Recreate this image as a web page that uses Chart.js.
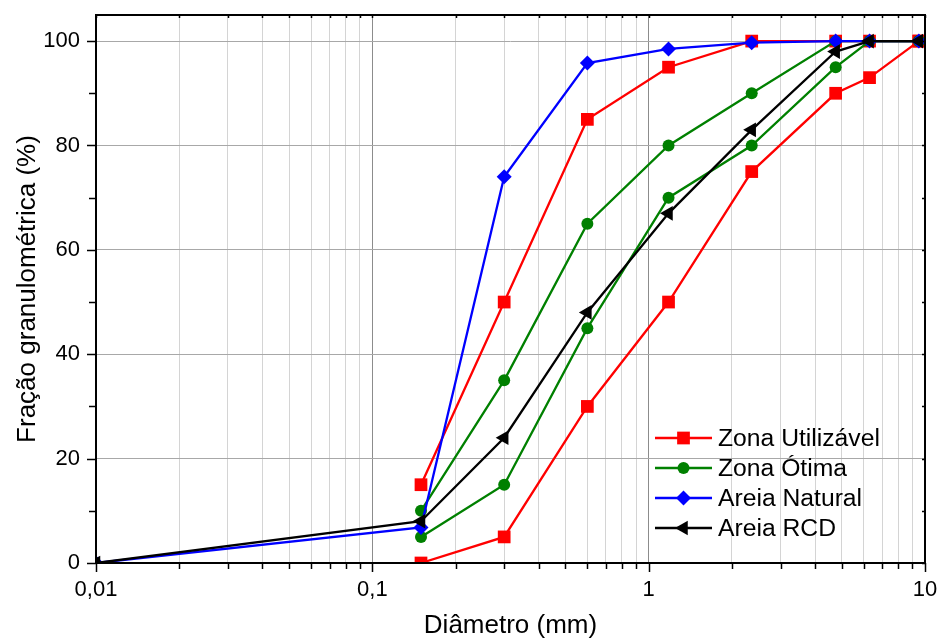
<!DOCTYPE html>
<html>
<head>
<meta charset="utf-8">
<title>Curvas granulométricas</title>
<script src="https://cdn.jsdelivr.net/npm/chart.js@4.4.0/dist/chart.umd.min.js"></script>
<style>
  html, body { margin: 0; padding: 0; background: #fff; }
  #wrap { width: 939px; height: 639px; position: relative; }
</style>
</head>
<body>
<div id="wrap"><canvas id="granulometria"></canvas></div>
<script>
// aberturas das peneiras (mm) e limites da NBR
var peneiras = [0.15, 0.3, 0.6, 1.18, 2.36, 4.75, 6.3, 9.5];
var utilizavelInf = [0, 5, 30, 50, 75, 90, 93, 100];
var utilizavelSup = [15, 50, 85, 95, 100, 100, 100, 100];
var otimaInf = [5, 15, 45, 70, 80, 95, 100, 100];
var otimaSup = [10, 35, 65, 80, 90, 100, 100, 100];

// areias ensaiadas (inclui o fundo em 0,01 mm)
var peneirasAreia = [0.01, 0.15, 0.3, 0.6, 1.18, 2.36, 4.75, 6.3, 9.5];
var areiaNatural = [0, 6.8, 74, 95.8, 98.5, 99.7, 100, 100, 100];
var areiaRCD = [0, 8, 24, 48, 67, 83, 98, 100, 100];

var xDecadas = [0.01, 0.1, 1, 10];
var yRotulos = [0, 20, 40, 60, 80, 100];

var FONTE = '"Liberation Sans", Arial, sans-serif';
Chart.defaults.font.family = FONTE;
Chart.defaults.color = '#000';

function pontos(xs, ys) {
  return xs.map(function (x, i) { return { x: x, y: ys[i] }; });
}

var estilos = {
  util: { cor: '#ff0000', ponto: 'rect', raio: 9, rot: 0 },
  otima: { cor: '#008000', ponto: 'circle', raio: 6, rot: 0 },
  natural: { cor: '#0000ff', ponto: 'rectRot', raio: 7.5, rot: 0 },
  rcd: { cor: '#000000', ponto: 'triangle', raio: 8.5, rot: 270 }
};

function serie(label, dados, e, ordem) {
  return {
    label: label,
    data: dados,
    borderColor: e.cor,
    backgroundColor: e.cor,
    borderWidth: 2.3,
    pointStyle: e.ponto,
    pointRadius: e.raio,
    pointRotation: e.rot,
    pointBorderWidth: 0,
    tension: 0,
    clip: 0,
    order: ordem
  };
}

// todos os valores 1..9 de cada década para a grade secundária
var xTodos = [];
for (var d = 0; d < xDecadas.length - 1; d++) {
  for (var m = 1; m <= 9; m++) xTodos.push({ value: m * xDecadas[d], major: m === 1 });
}
xTodos.push({ value: xDecadas[xDecadas.length - 1], major: true });

var yTodos = [];
for (var v = 0; v <= 100; v += 10) yTodos.push({ value: v, major: yRotulos.indexOf(v) >= 0 });

// marcas de escala: externas à esquerda/embaixo, internas em cima/à direita
var marcas = {
  id: 'marcas',
  afterDraw: function (chart) {
    var c = chart.ctx, a = chart.chartArea;
    var sx = chart.scales.x, sy = chart.scales.y;
    c.save();
    c.strokeStyle = '#000';
    c.lineWidth = 1.5;
    c.beginPath();
    sx.ticks.forEach(function (t) {
      var px = Math.round(sx.getPixelForValue(t.value)) + 0.5;
      var l = t.major ? 9 : 6;
      c.moveTo(px, a.bottom); c.lineTo(px, a.bottom + l);
      c.moveTo(px, a.top); c.lineTo(px, a.top + 3);
    });
    sy.ticks.forEach(function (t) {
      var py = Math.round(sy.getPixelForValue(t.value)) + 0.5;
      var l = t.major ? 9 : 7;
      c.moveTo(a.left, py); c.lineTo(a.left - l, py);
      c.moveTo(a.right, py); c.lineTo(a.right - 3, py);
    });
    c.stroke();
    c.lineWidth = 2;
    c.strokeRect(a.left, a.top, a.right - a.left, a.bottom - a.top);
    c.restore();
  }
};

// legenda com linha + símbolo
var legenda = {
  id: 'legenda',
  afterDraw: function (chart) {
    var c = chart.ctx;
    var itens = [
      ['Zona Utilizável', estilos.util],
      ['Zona Ótima', estilos.otima],
      ['Areia Natural', estilos.natural],
      ['Areia RCD', estilos.rcd]
    ];
    var x0 = 655, x1 = 712, y0 = 438, passo = 30;
    c.save();
    c.font = '24.7px ' + FONTE;
    c.textBaseline = 'middle';
    c.textAlign = 'left';
    itens.forEach(function (it, i) {
      var y = y0 + i * passo, e = it[1];
      c.strokeStyle = e.cor;
      c.lineWidth = 2.3;
      c.beginPath(); c.moveTo(x0, y); c.lineTo(x1, y); c.stroke();
      c.fillStyle = e.cor;
      Chart.helpers.drawPoint(c, { pointStyle: e.ponto, radius: e.raio, rotation: e.rot, borderWidth: 0 }, (x0 + x1) / 2, y);
      c.fillStyle = '#000';
      c.fillText(it[0], x1 + 6, y + 1);
    });
    c.restore();
  }
};

new Chart(document.getElementById('granulometria'), {
  type: 'line',
  data: {
    datasets: [
      serie('Zona Utilizável', pontos(peneiras, utilizavelInf), estilos.util, 5),
      serie('Zona Utilizável', pontos(peneiras, utilizavelSup), estilos.util, 4),
      serie('Zona Ótima', pontos(peneiras, otimaInf), estilos.otima, 3),
      serie('Zona Ótima', pontos(peneiras, otimaSup), estilos.otima, 2),
      serie('Areia Natural', pontos(peneirasAreia, areiaNatural), estilos.natural, 1),
      serie('Areia RCD', pontos(peneirasAreia, areiaRCD), estilos.rcd, 0)
    ]
  },
  options: {
    responsive: true,
    maintainAspectRatio: false,
    animation: false,
    layout: { padding: { left: 0, right: 14, top: 15, bottom: 0 } },
    plugins: { legend: { display: false }, tooltip: { enabled: false } },
    scales: {
      x: {
        type: 'logarithmic',
        min: 0.01,
        max: 10,
        afterBuildTicks: function (s) { s.ticks = xTodos.map(function (t) { return { value: t.value, major: t.major }; }); },
        afterFit: function (s) { s.height = 76; s.paddingLeft = 0; s.paddingRight = 0; },
        grid: {
          drawTicks: false,
          color: function (ctx) { return ctx.tick && ctx.tick.major ? '#8c8c8c' : '#d4d4d4'; },
          lineWidth: 1
        },
        border: { display: false },
        ticks: {
          autoSkip: false,
          maxRotation: 0,
          padding: 14,
          font: { size: 22 },
          callback: function (val, i, ticks) {
            return ticks[i].major ? String(+val.toPrecision(3)).replace('.', ',') : '';
          }
        },
        title: { display: true, text: 'Diâmetro (mm)', font: { size: 26, lineHeight: 1 }, padding: { top: 0, bottom: 0 } }
      },
      y: {
        min: 0,
        max: 105,
        afterBuildTicks: function (s) { s.ticks = yTodos.map(function (t) { return { value: t.value, major: t.major }; }); },
        afterFit: function (s) { s.width = 96; s.paddingTop = 0; s.paddingBottom = 0; },
        grid: {
          drawTicks: false,
          color: function (ctx) { return ctx.tick && ctx.tick.major ? '#a8a8a8' : 'rgba(0,0,0,0)'; },
          lineWidth: 1
        },
        border: { display: false },
        ticks: {
          autoSkip: false,
          padding: 16,
          font: { size: 22 },
          callback: function (val, i, ticks) { return ticks[i].major ? String(val) : ''; }
        },
        title: { display: true, text: 'Fração granulométrica (%)', font: { size: 26 }, padding: { top: 12, bottom: 0 } }
      }
    }
  },
  plugins: [marcas, legenda]
});
</script>
</body>
</html>
